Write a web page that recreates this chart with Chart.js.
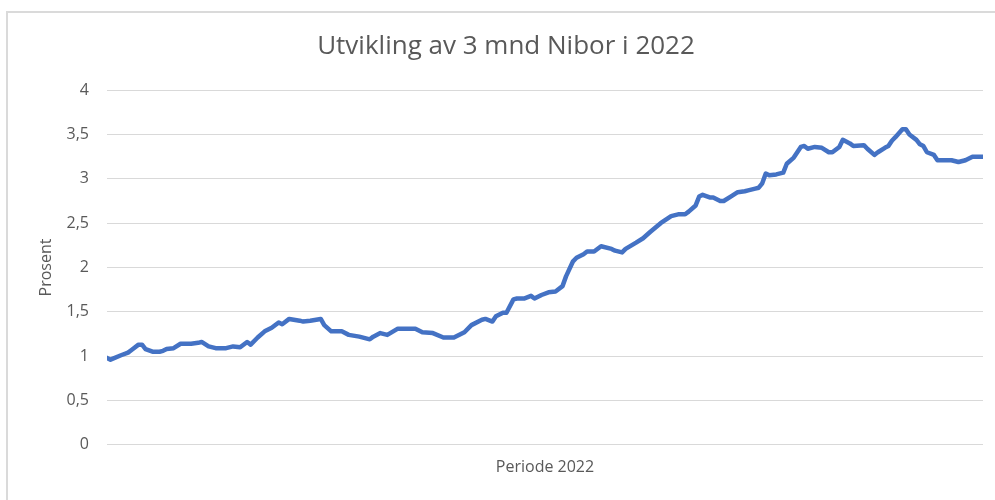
<!DOCTYPE html>
<html>
<head>
<meta charset="utf-8">
<script src="https://cdn.jsdelivr.net/npm/chart.js@4/dist/chart.umd.min.js"></script>
<style>
  html, body { margin: 0; padding: 0; background: #fff; overflow: hidden; }
  #frame { position: absolute; left: 6px; top: 11px; width: 1000px; height: 487px;
           border-left: 2px solid #dadada; border-top: 2px solid #dadada; }
  #c { display: block; }
</style>
</head>
<body>
<div id="frame"><canvas id="c" width="1000" height="487"></canvas></div>
<script>
// Trading-day index within 2022 and 3-month Nibor (%)
const days = [0,1,4,6,7,9,10,11,13,15,16,17,19,21,24,26,27,29,31,34,36,38,40,41,43,45,47,49,50,52,55,56,58,61,62,64,67,69,72,75,76,78,80,83,88,90,93,96,99,102,104,107,108,110,111,113,114,116,117,119,121,122,124,126,128,130,131,133,134,136,137,139,141,144,145,147,148,151,153,155,158,161,163,165,166,168,169,170,172,173,175,176,178,180,182,183,185,186,187,188,189,191,193,194,196,198,199,200,202,204,206,207,209,210,212,213,216,217,219,220,222,223,224,225,227,228,229,231,232,233,234,236,237,239,241,243,245,246,247,250];
const nibor = [0.98,0.96,1.01,1.04,1.07,1.13,1.13,1.08,1.05,1.05,1.06,1.08,1.09,1.14,1.14,1.15,1.16,1.11,1.09,1.09,1.11,1.10,1.16,1.13,1.21,1.28,1.32,1.38,1.36,1.42,1.40,1.39,1.40,1.42,1.35,1.28,1.28,1.24,1.22,1.19,1.22,1.26,1.24,1.31,1.31,1.27,1.26,1.21,1.21,1.27,1.35,1.41,1.42,1.39,1.45,1.49,1.49,1.64,1.65,1.65,1.68,1.65,1.69,1.72,1.73,1.79,1.90,2.07,2.11,2.15,2.18,2.18,2.24,2.21,2.19,2.17,2.21,2.28,2.33,2.40,2.50,2.58,2.60,2.60,2.63,2.70,2.80,2.82,2.79,2.79,2.75,2.75,2.80,2.85,2.86,2.87,2.89,2.90,2.95,3.06,3.04,3.05,3.07,3.17,3.24,3.36,3.37,3.34,3.36,3.35,3.30,3.30,3.36,3.44,3.40,3.37,3.38,3.34,3.27,3.30,3.35,3.37,3.43,3.47,3.56,3.56,3.50,3.44,3.39,3.37,3.30,3.27,3.21,3.21,3.21,3.19,3.21,3.23,3.25,3.25];
const yTicks = [0, 0.5, 1, 1.5, 2, 2.5, 3, 3.5, 4];
const titleText = 'Utvikling av 3 mnd Nibor i 2022';
const xTitle = 'Periode 2022';
const yTitle = 'Prosent';

const FONT = "'Open Sans', 'Liberation Sans', sans-serif";
const TXT = '#595959';

new Chart(document.getElementById('c'), {
  type: 'line',
  data: {
    datasets: [{
      data: days.map((d, i) => ({ x: d, y: nibor[i] })),
      borderColor: '#4472C4',
      borderWidth: 4.5,
      pointRadius: 0,
      tension: 0,
      borderCapStyle: 'round',
      borderJoinStyle: 'round',
      fill: false
    }]
  },
  options: {
    responsive: false,
    animation: false,
    layout: { padding: { left: 21, right: 25, top: 0, bottom: 20 } },
    plugins: {
      legend: { display: false },
      tooltip: { enabled: false },
      title: {
        display: true, text: titleText, color: TXT,
        font: { family: FONT, size: 26, weight: 'normal' },
        padding: { top: 18, bottom: 28 }
      }
    },
    scales: {
      x: {
        type: 'linear', min: 0, max: 250,
        grid: { display: false, drawTicks: false },
        border: { display: false },
        ticks: { display: false },
        title: { display: true, text: xTitle, color: TXT,
                 font: { family: FONT, size: 16 }, padding: { top: 13, bottom: 3 } }
      },
      y: {
        min: 0, max: 4,
        afterBuildTicks: (s) => { s.ticks = yTicks.map(v => ({ value: v })); },
        afterFit: (s) => { s.width = 78; },
        grid: { color: '#d9d9d9', lineWidth: 1, drawTicks: false },
        border: { display: false },
        ticks: {
          color: TXT, padding: 18,
          font: { family: FONT, size: 16 },
          callback: (v) => String(v).replace('.', ',')
        },
        title: { display: true, text: yTitle, color: TXT,
                 font: { family: FONT, size: 16 }, padding: { top: 8, bottom: 0 } }
      }
    }
  }
});
</script>
</body>
</html>
